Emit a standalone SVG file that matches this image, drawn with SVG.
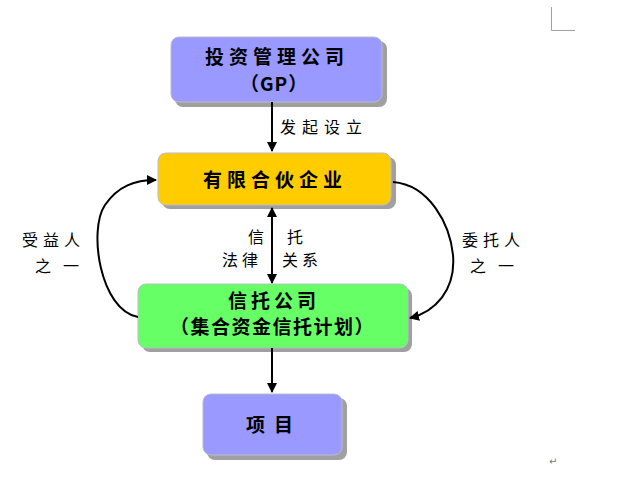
<svg xmlns="http://www.w3.org/2000/svg" width="624" height="480" viewBox="0 0 624 480">
<style>
.box{stroke:#bbbbcc;stroke-width:1}
.sh{fill:#a0a0a0}
.bt{font-family:"Noto Sans CJK SC","Noto Sans",sans-serif;font-weight:bold;font-size:19px;fill:#000;letter-spacing:5px}
.lb{font-family:"Noto Sans CJK SC","Noto Sans",sans-serif;font-size:16px;fill:#000;letter-spacing:5px}
.ln{stroke:#000;stroke-width:2;fill:none}
</style>
<defs>
<marker id="ah" viewBox="0 0 10 10" refX="9" refY="5" markerWidth="5" markerHeight="5" orient="auto-start-reverse"><path d="M0,0 L10,5 L0,10 z" fill="#000"/></marker>
</defs>
<rect width="624" height="480" fill="#fff"/>
<g id="corner" stroke="#a0a0a0" stroke-width="1" fill="none"><path d="M551.5,7 V30.5 H575"/></g>
<g id="gp">
<rect class="sh" x="175" y="41" width="212" height="66" rx="8"/>
<rect class="box" x="171" y="37" width="211" height="65" rx="8" fill="#9999ff"/>
<text class="bt" x="205" y="64">投资管理公司</text>
<text class="bt" x="240" y="91" style="letter-spacing:1px">（GP）</text>
</g>
<g id="lp">
<rect class="sh" x="162" y="157" width="234" height="52" rx="8"/>
<rect class="box" x="158" y="153" width="233" height="52" rx="8" fill="#ffcc00"/>
<text class="bt" x="203" y="187">有限合伙企业</text>
</g>
<g id="trust">
<rect class="sh" x="142" y="288" width="270" height="64" rx="8"/>
<rect class="box" x="138" y="284" width="270" height="64" rx="8" fill="#66ff66"/>
<text class="bt" x="228" y="308" style="letter-spacing:4px">信托公司</text>
<text class="bt" x="170" y="334" style="letter-spacing:1.5px">（集合资金信托计划）</text>
</g>
<g id="project">
<rect class="sh" x="207" y="398" width="140" height="62" rx="8"/>
<rect class="box" x="203" y="394" width="139" height="61" rx="8" fill="#9999ff"/>
<text class="bt" x="246" y="432" style="letter-spacing:9px">项目</text>
</g>
<g id="connectors">
<line class="ln" x1="272" y1="102" x2="272" y2="151" marker-end="url(#ah)"/>
<line class="ln" x1="272" y1="208" x2="272" y2="283" marker-start="url(#ah)" marker-end="url(#ah)"/>
<line class="ln" x1="272" y1="348" x2="272" y2="392" marker-end="url(#ah)"/>
<path class="ln" d="M138,317 C100,310 88,230 105,205 C118,186 135,180 156,180" marker-end="url(#ah)"/>
<path class="ln" d="M393,182 C430,185 450,225 453,255 C456,290 435,312 410,318" marker-end="url(#ah)"/>
<text class="lb" x="280" y="133" style="letter-spacing:6px">发起设立</text>
<text class="lb" x="248" y="243">信</text>
<text class="lb" x="287" y="243">托</text>
<text class="lb" x="222" y="266" style="letter-spacing:4px">法律</text>
<text class="lb" x="282" y="266" style="letter-spacing:4px">关系</text>
<text class="lb" x="22" y="246">受益人</text>
<text class="lb" x="35" y="272" style="letter-spacing:12px">之一</text>
<text class="lb" x="462" y="246">委托人</text>
<text class="lb" x="470" y="272" style="letter-spacing:12px">之一</text>
<text font-family="DejaVu Sans,sans-serif" font-size="10" fill="#777" x="549" y="465">↵</text>
</g>
</svg>
